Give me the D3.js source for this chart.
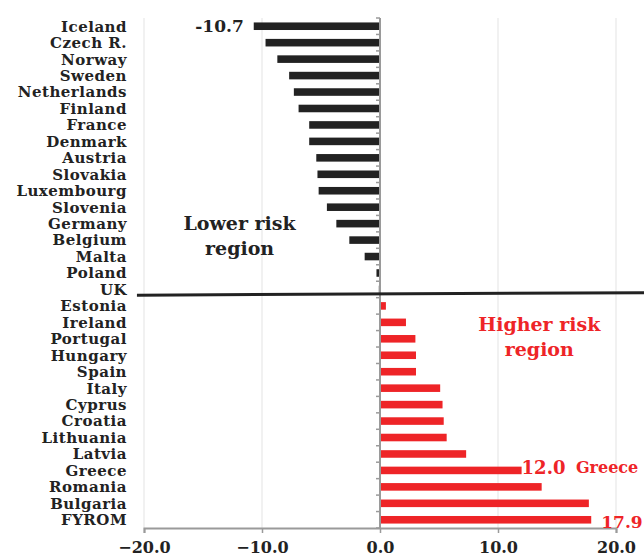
<!DOCTYPE html>
<html lang="en">
<head>
  <meta charset="UTF-8">
  <title>Risk regions</title>
  <script src="https://cdn.jsdelivr.net/npm/d3@7"></script>
  <style>
    html, body { margin: 0; padding: 0; background: #fff; }
    svg text { font-family: "DejaVu Serif", "Liberation Serif", serif; font-weight: bold; }
  </style>
</head>
<body>
  <svg width="644" height="557"></svg>
  <script>
    // data
    var countries = ["Iceland", "Czech R.", "Norway", "Sweden", "Netherlands", "Finland", "France",
      "Denmark", "Austria", "Slovakia", "Luxembourg", "Slovenia", "Germany", "Belgium", "Malta",
      "Poland", "UK", "Estonia", "Ireland", "Portugal", "Hungary", "Spain", "Italy", "Cyprus",
      "Croatia", "Lithuania", "Latvia", "Greece", "Romania", "Bulgaria", "FYROM"];
    var values = [-10.7, -9.7, -8.7, -7.7, -7.3, -6.9, -6.0, -6.0, -5.4, -5.3, -5.2, -4.5, -3.7,
      -2.6, -1.3, -0.3, -0.1, 0.5, 2.2, 3.0, 3.05, 3.05, 5.1, 5.3, 5.4, 5.65, 7.3, 12.0, 13.7, 17.7, 17.9];
    var xTicks = [-20, -10, 0, 10, 20];

    var black = "#222", red = "#ee2427", axisGrey = "#9a9a9a";

    var svg = d3.select("svg");
    var margin = { top: 18, left: 144, right: 28, bottom: 29 };
    var width = 644 - margin.left - margin.right,
        height = 557 - margin.top - margin.bottom;

    var x = d3.scaleLinear().domain([-20, 20]).range([margin.left, margin.left + width]);
    var y = d3.scaleBand().domain(countries).range([margin.top, margin.top + height]).paddingInner(0.54).paddingOuter(0.27);
    var band = d3.scaleBand().domain(countries).range([margin.top, margin.top + height]);

    // grid
    svg.append("g").selectAll("line")
      .data(xTicks.filter(function (d) { return d !== 0; }))
      .enter().append("line")
      .attr("x1", function (d) { return x(d); }).attr("x2", function (d) { return x(d); })
      .attr("y1", margin.top).attr("y2", margin.top + height)
      .attr("stroke", "#e3e3e3").attr("stroke-width", 1);

    // bars
    svg.append("g").selectAll("rect")
      .data(values)
      .enter().append("rect")
      .attr("x", function (d) { return Math.min(x(d), x(0)); })
      .attr("y", function (d, i) { return y(countries[i]); })
      .attr("width", function (d) { return Math.abs(x(d) - x(0)); })
      .attr("height", y.bandwidth())
      .attr("fill", function (d) { return d < 0 ? black : red; });

    // x axis
    var xAxis = svg.append("g")
      .attr("transform", "translate(0," + (margin.top + height) + ")")
      .call(d3.axisBottom(x).tickValues(xTicks).tickFormat(d3.format(".1f")).tickSize(5).tickPadding(9));
    xAxis.select(".domain").attr("stroke", axisGrey).attr("stroke-width", 2);
    xAxis.selectAll(".tick line").attr("stroke", axisGrey).attr("stroke-width", 1.5);
    xAxis.selectAll("text").attr("fill", black).attr("font-size", 16).style("font-family", "\"DejaVu Serif\", serif");

    // y axis at zero, ticks on band edges
    var yAxis = svg.append("g");
    yAxis.selectAll("line.tk")
      .data(countries.concat(["_end"]))
      .enter().append("line")
      .attr("x1", x(0) - 4).attr("x2", x(0))
      .attr("y1", function (d, i) { return margin.top + i * band.bandwidth(); })
      .attr("y2", function (d, i) { return margin.top + i * band.bandwidth(); })
      .attr("stroke", axisGrey).attr("stroke-width", 1.5);
    yAxis.append("line")
      .attr("x1", x(0)).attr("x2", x(0))
      .attr("y1", margin.top).attr("y2", margin.top + height)
      .attr("stroke", axisGrey).attr("stroke-width", 2);

    // country labels
    svg.append("g").selectAll("text")
      .data(countries)
      .enter().append("text")
      .attr("x", 127)
      .attr("y", function (d) { return band(d) + band.bandwidth() / 2; })
      .attr("dy", "0.36em")
      .attr("text-anchor", "end")
      .attr("font-size", 15)
      .attr("letter-spacing", 0.5)
      .attr("fill", black)
      .text(function (d) { return d; });

    // divider between lower and higher risk
    var split = band("Estonia");
    svg.append("line")
      .attr("x1", x(-20.6)).attr("y1", split - 2.5)
      .attr("x2", x(22.4)).attr("y2", split - 5)
      .attr("stroke", black).attr("stroke-width", 3);

    // annotations
    function note(txt, xv, yv, size, color, anchor) {
      svg.append("text")
        .attr("x", xv).attr("y", yv).attr("dy", "0.36em")
        .attr("text-anchor", anchor || "middle")
        .attr("font-size", size).attr("fill", color)
        .text(txt);
    }
    var mid = function (c) { return band(c) + band.bandwidth() / 2; };
    note("-10.7", x(values[0]) - 10, mid("Iceland"), 17, black, "end");
    note("Lower risk", x(-11.9), mid("Germany"), 19, black);
    note("region", x(-11.9), mid("Germany") + 25, 19, black);
    note("Higher risk", x(13.5), mid("Ireland") + 2, 19, red);
    note("region", x(13.5), mid("Ireland") + 27, 19, red);
    note("12.0", x(12.0), mid("Greece") - 3, 18, red, "start");
    note("Greece", x(16.6), mid("Greece") - 3, 16, red, "start");
    note("17.9", x(17.9) + 10, mid("FYROM") + 2, 17, red, "start");
  </script>
</body>
</html>
